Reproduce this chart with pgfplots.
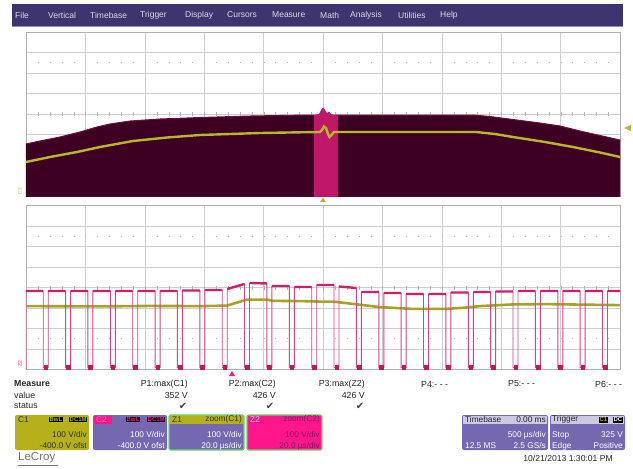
\documentclass[border=0pt]{standalone}
\usepackage{pgfplots}
\pgfplotsset{compat=1.18}
\usepackage{fontspec}
\setmainfont{Liberation Sans}
\newfontfamily\symfont{DejaVu Sans}
\definecolor{menubar}{RGB}{62,52,110}
\definecolor{menuline}{RGB}{150,140,200}
\definecolor{gridc}{RGB}{205,205,210}
\definecolor{framec}{RGB}{175,175,180}
\definecolor{envfill}{RGB}{62,0,34}
\definecolor{envedge}{RGB}{115,12,62}
\definecolor{band}{RGB}{192,24,104}
\definecolor{ylw}{RGB}{182,184,40}
\definecolor{ylwb}{RGB}{165,165,35}
\definecolor{trace}{RGB}{212,28,108}
\definecolor{tracelt}{RGB}{214,70,135}
\definecolor{olive}{RGB}{182,176,26}
\definecolor{panelp}{RGB}{118,104,176}
\definecolor{panelhd}{RGB}{205,200,228}
\definecolor{hotpink}{RGB}{255,22,140}
\definecolor{zgreen}{RGB}{100,212,100}
\definecolor{zdark}{RGB}{125,20,95}
\pgfplotsset{lcscope/.style={scale only axis, width=594pt, height=164pt,
  xmin=26, xmax=620, y dir=reverse,
  xtick={26,85.4,144.8,204.2,263.6,323,382.4,441.8,501.2,560.6,620},
  xticklabels={}, yticklabels={}, major tick length=0pt, tick style={draw=none},
  grid=major, grid style={gridc, line width=0.6pt},
  axis line style={framec, line width=0.6pt}, clip=true}}
\begin{document}
\begin{tikzpicture}
\begin{scope}[x=1pt,y=-1pt]
\fill[white] (0,0) rectangle (633,469);
% menu bar
\fill[menubar] (12,4) rectangle (623,26);
\draw[menuline, line width=1pt] (12,26.5)--(623,26.5);
\begin{scope}[every node/.style={anchor=west, inner sep=0pt, text=white!82!menubar, font=\fontsize{8.5}{10}\selectfont}]
\node at (15,15) {File};
\node at (48,15) {Vertical};
\node at (90,15) {Timebase};
\node at (140,15) {Trigger};
\node at (185,15) {Display};
\node at (227,15) {Cursors};
\node at (272,15) {Measure};
\node at (320,15) {Math};
\node at (350,15) {Analysis};
\node at (398,15) {Utilities};
\node at (440,15) {Help};
\end{scope}
\end{scope}

% ---------- top grid (C1 / C2 envelope) ----------
\begin{axis}[lcscope, at={(323pt,-114pt)}, anchor=center, ymin=32, ymax=196,
  ytick={32,52.5,73,93.5,114,134.5,155,175.5,196}]
\addplot[draw=gray!55, line width=0.8pt, dash pattern=on 0.8pt off 11.08pt] coordinates {(26,62.75) (620,62.75)};
\addplot[draw=gray!60, line width=4pt, dash pattern=on 0.7pt off 11.18pt] coordinates {(26,114) (620,114)};
\addplot[fill=envfill, draw=envedge, line width=1pt] coordinates {
 (26,144) (40,141) (60,137) (80,132) (95,127.5) (110,124) (130,121) (160,119)
 (200,117.5) (250,116) (290,115.3) (313,115) (338,115) (400,115) (473,115)
 (490,116.5) (513,119.5) (540,123) (560,126) (580,131) (600,135.5) (620,140)
 (620,197) (26,197)};
\addplot[fill=band, draw=none] coordinates {
 (314,115.5) (319,114) (321,110) (323,107.5) (325,110) (327,113) (329,111.5)
 (331,114) (334,115) (338,115.5) (338,197) (314,197)};
\addplot[ylw, line width=2.4pt] coordinates {
 (26,162) (50,157) (77,152) (100,147) (133,141) (167,137.5) (200,135) (260,133)
 (300,132.3) (320,132) (322,130) (324,126.5) (326,128) (328,134) (329.5,137)
 (331,135.5) (334,132) (340,132) (400,132) (476,132) (495,134) (513,137)
 (545,142) (573,147) (600,152.5) (620,157)};
\end{axis}

% ---------- bottom grid (zoom traces) ----------
\begin{axis}[lcscope, at={(323pt,-287.5pt)}, anchor=center, ymin=206, ymax=369,
  ytick={206,226.375,246.75,267.125,287.5,307.875,328.25,348.625,369},
  unbounded coords=jump]
\addplot[draw=gray!55, line width=0.8pt, dash pattern=on 0.8pt off 11.08pt] coordinates {(26,236.6) (620,236.6)};
\addplot[draw=gray!55, line width=0.8pt, dash pattern=on 0.8pt off 11.08pt] coordinates {(26,338.4) (620,338.4)};
\addplot[draw=gray!60, line width=4pt, dash pattern=on 0.7pt off 11.18pt] coordinates {(26,287.5) (620,287.5)};
\addplot[ylwb, line width=2.6pt] coordinates {
 (26,306) (100,306.3) (150,305.8) (200,306) (227,305.5) (237,302.5) (247,299.5)
 (267,299.5) (273,300.8) (300,301) (320,301.5) (333,301.5) (346,303) (363,305)
 (380,307) (413,308.8) (446,308.8) (465,307.5) (480,306) (513,304.3) (546,304)
 (580,304.5) (620,305)};
\addplot[tracelt, line width=0.9pt] coordinates {
 (26,369) (26,291) (43.2,291) (43.2,367) (48.2,367) (48.2,291) (65.6,291)
 (65.6,367) (70.6,367) (70.6,291) (87.9,291) (87.9,367) (92.9,367) (92.9,291)
 (110.3,291) (110.3,367) (115.3,367) (115.3,291) (132.7,291) (132.7,367)
 (137.7,367) (137.7,291) (155.1,291) (155.1,367) (160.1,367) (160.1,291)
 (177.4,291) (177.4,367) (182.4,367) (182.4,290.5) (199.8,290.5) (199.8,367)
 (204.8,367) (204.8,290) (222.2,290) (222.2,367) (227.2,367) (227.2,289)
 (244.5,284) (244.5,367) (249.5,367) (249.5,283) (266.9,283.5) (266.9,367)
 (271.9,367) (271.9,286) (289.3,286) (289.3,367) (294.3,367) (294.3,287)
 (311.7,287) (311.7,367) (316.7,367) (316.7,285) (334.0,285) (334.0,367)
 (339.0,367) (339.0,286.5) (356.4,288) (356.4,367) (361.4,367) (361.4,292)
 (378.8,292) (378.8,367) (383.8,367) (383.8,293) (401.1,293) (401.1,367)
 (406.1,367) (406.1,294) (423.5,294) (423.5,367) (428.5,367) (428.5,294)
 (445.9,294) (445.9,367) (450.9,367) (450.9,292.5) (468.3,292.5) (468.3,367)
 (473.3,367) (473.3,292) (490.6,292) (490.6,367) (495.6,367) (495.6,291.5)
 (513.0,291.5) (513.0,367) (518.0,367) (518.0,291) (535.4,291) (535.4,367)
 (540.4,367) (540.4,291) (557.8,291) (557.8,367) (562.8,367) (562.8,291)
 (580.1,291) (580.1,367) (585.1,367) (585.1,291) (602.5,291) (602.5,367)
 (607.5,367) (607.5,291) (620,291)};
\addplot[trace, line width=2.4pt] coordinates {
 (26,291) (43.2,291) (43.2,nan)
 (48.2,291) (65.6,291) (65.6,nan)
 (70.6,291) (87.9,291) (87.9,nan)
 (92.9,291) (110.3,291) (110.3,nan)
 (115.3,291) (132.7,291) (132.7,nan)
 (137.7,291) (155.1,291) (155.1,nan)
 (160.1,291) (177.4,291) (177.4,nan)
 (182.4,290.5) (199.8,290.5) (199.8,nan)
 (204.8,290) (222.2,290) (222.2,nan)
 (227.2,289) (244.5,284) (244.5,nan)
 (249.5,283) (266.9,283.5) (266.9,nan)
 (271.9,286) (289.3,286) (289.3,nan)
 (294.3,287) (311.7,287) (311.7,nan)
 (316.7,285) (334.0,285) (334.0,nan)
 (339.0,286.5) (356.4,288) (356.4,nan)
 (361.4,292) (378.8,292) (378.8,nan)
 (383.8,293) (401.1,293) (401.1,nan)
 (406.1,294) (423.5,294) (423.5,nan)
 (428.5,294) (445.9,294) (445.9,nan)
 (450.9,292.5) (468.3,292.5) (468.3,nan)
 (473.3,292) (490.6,292) (490.6,nan)
 (495.6,291.5) (513.0,291.5) (513.0,nan)
 (518.0,291) (535.4,291) (535.4,nan)
 (540.4,291) (557.8,291) (557.8,nan)
 (562.8,291) (580.1,291) (580.1,nan)
 (585.1,291) (602.5,291) (602.5,nan)
 (607.5,291) (620,291)};
\addplot[only marks, mark=square*, mark size=1.8pt, color=trace!90!black] coordinates {
 (45.7,366.5) (68.1,366.5) (90.4,366.5) (112.8,366.5) (135.2,366.5) (157.6,366.5)
 (179.9,366.5) (202.3,366.5) (224.7,366.5) (247.0,366.5) (269.4,366.5) (291.8,366.5)
 (314.2,366.5) (336.5,366.5) (358.9,366.5) (381.3,366.5) (403.6,366.5) (426.0,366.5)
 (448.4,366.5) (470.8,366.5) (493.1,366.5) (515.5,366.5) (537.9,366.5) (560.3,366.5)
 (582.6,366.5) (605.0,366.5)};
\end{axis}

\begin{scope}[x=1pt,y=-1pt]
% small markers / labels around the grids
\fill[ylw] (624,128) -- (631,125) -- (631,131) -- cycle;
\fill[ylw] (323,197.5) -- (320,202) -- (326,202) -- cycle;
\fill[hotpink] (232,371) -- (229,376) -- (235,376) -- cycle;
\node[rotate=90, inner sep=0pt, text=ylw, font=\fontsize{5}{5}\selectfont] at (20,191) {C2};
\node[rotate=90, inner sep=0pt, text=hotpink, font=\fontsize{5}{5}\selectfont] at (20,364) {Z2};

% measure table
\begin{scope}[every node/.style={inner sep=0pt, text=black!85, font=\fontsize{8.8}{10}\selectfont}]
\node[anchor=west, font=\fontsize{8.8}{10}\selectfont\bfseries] at (14,384) {Measure};
\node[anchor=west] at (14,395) {value};
\node[anchor=west] at (14,406) {status};
\node[anchor=east] at (188,384) {P1:max(C1)};
\node[anchor=east] at (276,384) {P2:max(C2)};
\node[anchor=east] at (365,384) {P3:max(Z2)};
\node[anchor=west] at (421,384) {P4:- - -};
\node[anchor=west] at (508,384) {P5:- - -};
\node[anchor=west] at (595,384) {P6:- - -};
\node[anchor=east] at (188,395) {352 V};
\node[anchor=east] at (276,395) {426 V};
\node[anchor=east] at (365,395) {426 V};
\node[text=black!75, font=\symfont\fontsize{10}{11}\selectfont] at (183,406) {✔};
\node[text=black!75, font=\symfont\fontsize{10}{11}\selectfont] at (270,406) {✔};
\node[text=black!75, font=\symfont\fontsize{10}{11}\selectfont] at (360,406) {✔};
\end{scope}

% channel panels
\tikzset{pt/.style={inner sep=0pt, font=\fontsize{8.3}{9}\selectfont},
         bx/.style={inner sep=0.6pt, fill=black, font=\fontsize{6}{6}\selectfont\bfseries}}
% C1
\fill[olive, rounded corners=2pt] (15,415) rectangle (89,450);
\node[pt, anchor=west, text=black!80] at (18,419.5) {C1};
\node[bx, text=olive, anchor=east] at (63,419.5) {BwL};
\node[bx, text=olive, anchor=east] at (87.5,419.5) {DC1M};
\node[pt, anchor=east, text=black!80] at (87,435) {100 V/div};
\node[pt, anchor=east, text=black!80] at (87,446) {-400.0 V ofst};
% C2
\fill[panelp, rounded corners=2pt] (93,415) rectangle (167,450);
\fill[hotpink] (93.5,415.5) rectangle (112,424);
\node[pt, anchor=west, text=hotpink!60!white] at (96,419.5) {C2};
\node[bx, text=hotpink, anchor=east] at (140,419.5) {BwL};
\node[bx, text=hotpink, anchor=east] at (165.5,419.5) {DC1M};
\node[pt, anchor=east, text=white] at (165,435) {100 V/div};
\node[pt, anchor=east, text=white] at (165,446) {-400.0 V ofst};
% Z1
\fill[panelp] (169,415) rectangle (244,450);
\fill[olive] (169,415) rectangle (244,424);
\draw[zgreen, line width=1.3pt, rounded corners=1.5pt] (169,415) rectangle (244,450);
\node[pt, anchor=west, text=black!80] at (172,419.5) {Z1};
\node[pt, anchor=east, text=black!80] at (242,419.5) {zoom(C1)};
\node[pt, anchor=east, text=white] at (242,435) {100 V/div};
\node[pt, anchor=east, text=white] at (242,446) {20.0 µs/div};
% Z2
\fill[hotpink] (247,415) rectangle (322,450);
\draw[zgreen, line width=1.3pt, rounded corners=1.5pt] (247,415) rectangle (322,450);
\node[pt, anchor=west, text=white!80!hotpink] at (250,419.5) {Z2};
\node[pt, anchor=east, text=zdark] at (320,419.5) {zoom(C2)};
\node[pt, anchor=east, text=zdark] at (320,435) {100 V/div};
\node[pt, anchor=east, text=zdark] at (320,446) {20.0 µs/div};
% Timebase
\fill[panelp, rounded corners=2pt] (462,415) rectangle (548,450);
\fill[panelhd] (463,416) rectangle (547,424);
\node[pt, anchor=west, text=black!85] at (465,419.5) {Timebase};
\node[pt, anchor=east, text=black!85] at (546,419.5) {0.00 ms};
\node[pt, anchor=east, text=white] at (546,435) {500 µs/div};
\node[pt, anchor=west, text=white] at (465,446) {12.5 MS};
\node[pt, anchor=east, text=white] at (546,446) {2.5 GS/s};
% Trigger
\fill[panelp, rounded corners=2pt] (550,415) rectangle (625,450);
\fill[panelhd] (551,416) rectangle (624,424);
\node[pt, anchor=west, text=black!85] at (552,419.5) {Trigger};
\node[bx, text=olive, anchor=east] at (608,419.8) {C1};
\node[bx, text=white, anchor=east] at (623,419.8) {DC};
\node[pt, anchor=west, text=white] at (552,435) {Stop};
\node[pt, anchor=east, text=white] at (623,435) {325 V};
\node[pt, anchor=west, text=white] at (552,446) {Edge};
\node[pt, anchor=east, text=white] at (623,446) {Positive};

% footer
\node[anchor=west, inner sep=0pt, text=black!55, font=\fontsize{11.5}{12}\selectfont] (lc) at (18,458) {LeCroy};
\draw[black!55, line width=0.8pt] (lc.south west)++(0,1.5) -- ++(40,0);
\node[anchor=east, inner sep=0pt, text=black!85, font=\fontsize{8.6}{10}\selectfont] at (613,458) {10/21/2013 1:30:01 PM};
\end{scope}
\end{tikzpicture}
\end{document}
